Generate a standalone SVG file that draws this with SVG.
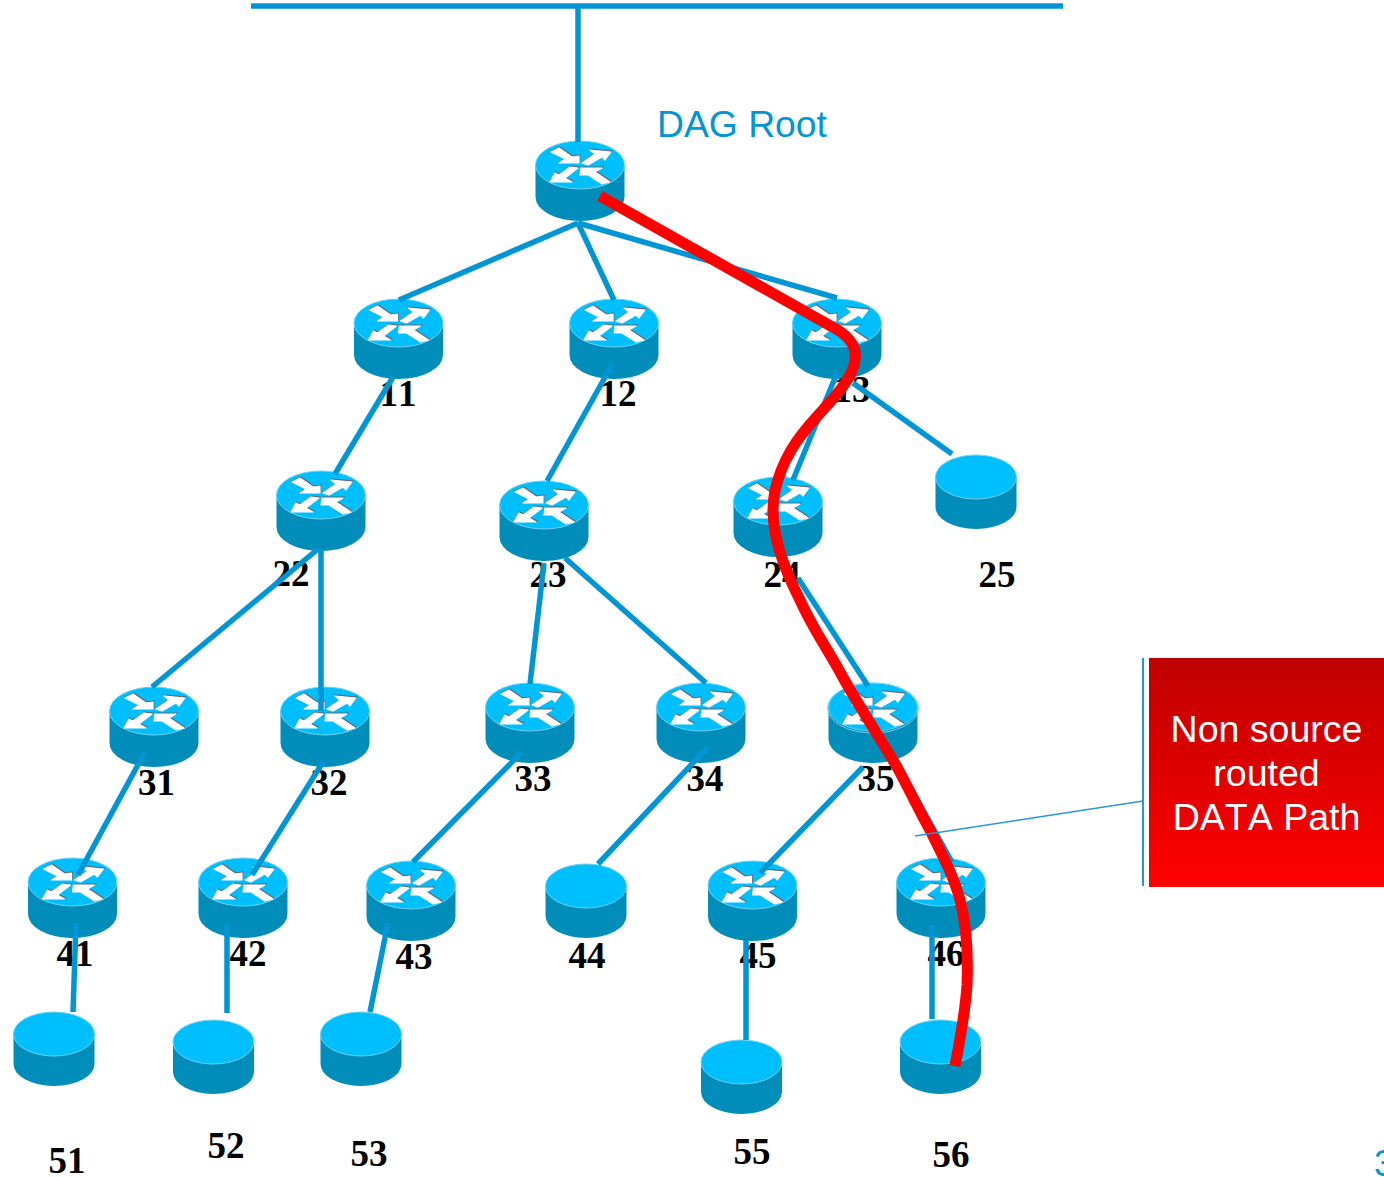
<svg xmlns="http://www.w3.org/2000/svg" width="1384" height="1177" viewBox="0 0 1384 1177">
<style>
text{font-kerning:none}
.lbl{font-family:"Liberation Serif","Times New Roman",serif;font-weight:bold;font-size:37px;fill:#000;text-anchor:middle}
.c line{stroke:#0096d6;stroke-width:5.500;fill:none}
.top{fill:#00bfff;stroke:#6fd3f2;stroke-width:1}
.side{fill:#008dba}
.ar{fill:#fff;stroke:#fff;stroke-width:1.200;stroke-linejoin:round}
.sh{fill:#5c6b70;stroke:#5c6b70;stroke-width:1.200}
.box{font-family:"Liberation Sans",Arial,sans-serif;font-size:37.500px;fill:#fff;text-anchor:middle}
</style>
<defs>
<linearGradient id="g" x1="0" y1="0" x2="0" y2="1"><stop offset="0" stop-color="#bf0000"/><stop offset="1" stop-color="#ff0000"/></linearGradient>
<g id="arrows">
<polygon points="2,-2 8,0 22,-8 25,-5 31,-13 10,-15 15,-11"/>
<polygon points="0,10 1,3 22,3 15,7 30,17 22,19 8,10"/>
<polygon points="-29,-13 -21,-17 -8,-8 -1,-9 -1,-2 -21,-2 -15,-6"/>
<polygon points="-2,3 -10,2 -21,10 -25,8 -30,17 -8,17 -15,13"/>
</g>
<g id="router">
<path class="side" d="M-44.500 0V32A44.500 24 0 0 0 44.500 32V0Z"/>
<ellipse class="top" cx="0" cy="0" rx="44.500" ry="24"/>
<use href="#arrows" class="sh" x="0.700" y="-1"/>
<use href="#arrows" class="ar"/>
</g>
<g id="disc">
<path class="side" d="M-40.500 0V30A40.500 22 0 0 0 40.500 30V0Z"/>
<ellipse class="top" cx="0" cy="0" rx="40.500" ry="22"/>
</g>
</defs>
<rect width="1384" height="1177" fill="#fff"/>

<g id="n-root"><use href="#router" x="580" y="165"/></g>
<g id="n11"><use href="#router" x="398.500" y="323"/><text class="lbl" x="398" y="406">11</text></g>
<g id="n12"><use href="#router" x="614" y="323"/><text class="lbl" x="618" y="406">12</text></g>
<g id="n13"><use href="#router" x="837" y="323"/><text class="lbl" x="852" y="402">13</text></g>
<g id="n22"><use href="#router" x="321" y="495"/><text class="lbl" x="291" y="586">22</text></g>
<g id="n23"><use href="#router" x="544" y="505"/><text class="lbl" x="548" y="587">23</text></g>
<g id="n24"><use href="#router" x="778" y="501"/><text class="lbl" x="782" y="587">24</text></g>
<g id="n25"><use href="#disc" x="976" y="477"/><text class="lbl" x="997" y="587">25</text></g>
<g id="n31"><use href="#router" x="154" y="711"/><text class="lbl" x="156.500" y="795">31</text></g>
<g id="n32"><use href="#router" x="325" y="711"/><text class="lbl" x="329" y="795">32</text></g>
<g id="n33"><use href="#router" x="530" y="707"/><text class="lbl" x="533" y="791">33</text></g>
<g id="n34"><use href="#router" x="701" y="707"/><text class="lbl" x="705" y="791">34</text></g>
<g id="n35"><use href="#router" x="873" y="707"/><ellipse cx="873" cy="708" rx="45.500" ry="25" fill="none" stroke="#6fd3f2" stroke-width="1"/><text class="lbl" x="876" y="791">35</text></g>
<g id="n41"><use href="#router" x="72.500" y="882"/><text class="lbl" x="75" y="966">41</text></g>
<g id="n42"><use href="#router" x="243" y="882"/><text class="lbl" x="248" y="966">42</text></g>
<g id="n43"><use href="#router" x="411" y="885"/><text class="lbl" x="414" y="969">43</text></g>
<g id="n44"><use href="#disc" x="586" y="886"/><text class="lbl" x="587" y="968">44</text></g>
<g id="n45"><use href="#router" x="752.500" y="885"/><text class="lbl" x="758" y="968">45</text></g>
<g id="n46"><use href="#router" x="941" y="882"/><text class="lbl" x="946" y="966">46</text></g>
<g id="n51"><use href="#disc" x="54" y="1034"/><text class="lbl" x="67" y="1173">51</text></g>
<g id="n52"><use href="#disc" x="213.500" y="1042"/><text class="lbl" x="226" y="1158">52</text></g>
<g id="n53"><use href="#disc" x="361" y="1034"/><text class="lbl" x="369" y="1166">53</text></g>
<g id="n55"><use href="#disc" x="741.500" y="1062"/><text class="lbl" x="752" y="1164">55</text></g>
<g id="n56"><use href="#disc" x="940.500" y="1042"/><text class="lbl" x="951" y="1167">56</text></g>

<g id="connectors" class="c">
<line x1="251" y1="6" x2="1063" y2="6"/>
<line x1="578" y1="6" x2="578" y2="142"/>
<line x1="578" y1="223" x2="399" y2="300"/>
<line x1="578" y1="223" x2="614" y2="300"/>
<line x1="578" y1="223" x2="837" y2="298"/>
<line x1="393" y1="377" x2="335" y2="474"/>
<line x1="613" y1="363" x2="547" y2="481"/>
<line x1="837" y1="373" x2="793" y2="480"/>
<line x1="853" y1="383" x2="952" y2="454"/>
<line x1="318" y1="549" x2="152" y2="687"/>
<line x1="321" y1="549" x2="321" y2="711"/>
<line x1="544" y1="563" x2="530" y2="684"/>
<line x1="565" y1="558" x2="706" y2="683"/>
<line x1="798" y1="578" x2="868" y2="686"/>
<line x1="145" y1="752" x2="78" y2="875"/>
<line x1="323" y1="762" x2="252" y2="875"/>
<line x1="522" y1="752" x2="413" y2="862"/>
<line x1="708" y1="747" x2="598" y2="864"/>
<line x1="863" y1="767" x2="760" y2="873"/>
<line x1="899" y1="767" x2="952" y2="862"/>
<line x1="76" y1="923" x2="73" y2="1012"/>
<line x1="227" y1="923" x2="227" y2="1013"/>
<line x1="388" y1="923" x2="370" y2="1012"/>
<line x1="746" y1="940" x2="746" y2="1040"/>
<line x1="932" y1="925" x2="932" y2="1019"/>
</g>

<path id="data-path" fill="none" stroke="#ff0000" stroke-width="11" d="M600 196L836 329C850 337 857 348 855 360C852 385 820 410 803 433C785 455 773 485 773 510C773 545 790 580 800 600C812 627 825 645 840 672C855 700 880 738 897 767C912 795 920 812 930 830C945 860 955 880 960 900C968 930 968 960 967 985C965 1015 960 1040 955 1066"/>

<text x="657" y="137" font-family="Liberation Sans, Arial, sans-serif" font-size="37.300" fill="#0096d6">DAG Root</text>
<text x="1374" y="1176" font-family="Liberation Sans, Arial, sans-serif" font-size="37" fill="#0096d6">3</text>

<g id="callout">
<rect x="1149" y="658" width="235" height="229" fill="url(#g)"/>
<text class="box" x="1266.500" y="742">Non source</text>
<text class="box" x="1266.500" y="786">routed</text>
<text class="box" x="1266.500" y="830">DATA Path</text>
<path d="M915 836L1143 801" stroke="#2b95d6" stroke-width="1.500" fill="none"/>
<path d="M1143 658V886" stroke="#2b95d6" stroke-width="2" fill="none"/>
</g>
</svg>
